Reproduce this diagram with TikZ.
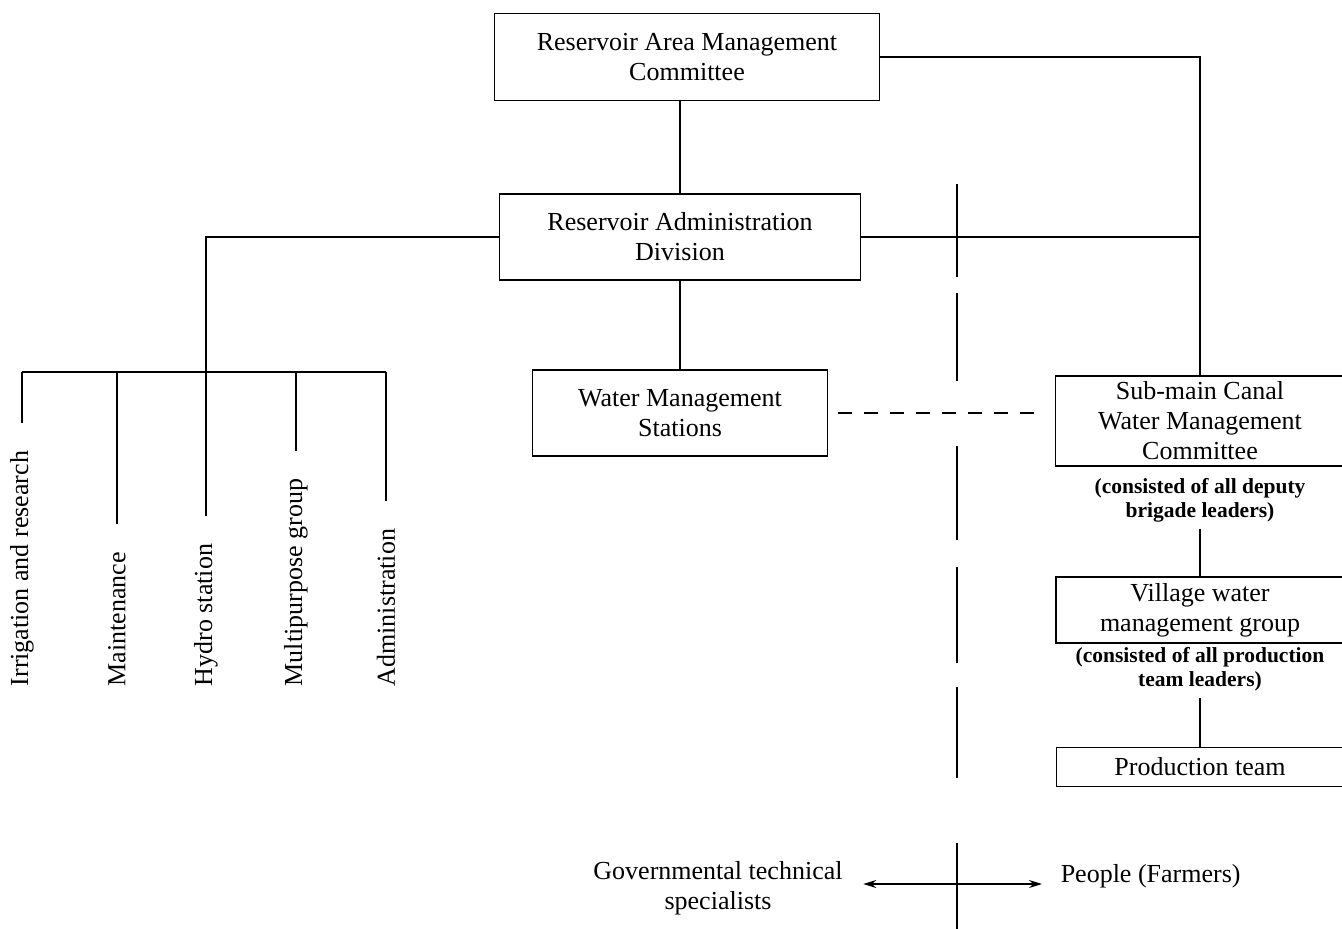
\documentclass[tikz,border=0pt]{standalone}
\usepackage{fontspec}
\setmainfont{Liberation Serif}
\usetikzlibrary{positioning,arrows.meta}

\begin{document}
\begin{tikzpicture}[x=1pt,y=-1pt,line width=1.5pt,
    >={Stealth[length=13pt,width=8pt]},
    box/.style={draw,align=center,inner sep=0pt,font=\fontsize{26}{30}\selectfont},
    note/.style={align=center,inner sep=0pt,font=\bfseries\fontsize{21.5}{24}\selectfont},
    unit/.style={rotate=90,anchor=west,inner sep=0pt,font=\fontsize{26}{30}\selectfont},
    side/.style={align=center,inner sep=0pt,font=\fontsize{26}{30}\selectfont}]
  \useasboundingbox (0,0) rectangle (1342,929);

  % Management boxes
  \node[box,minimum width=385pt,minimum height=87pt] (ramc) at (687,57) {Reservoir Area Management\\Committee};
  \node[box,minimum width=361pt,minimum height=86pt] (rad) at (680,237) {Reservoir Administration\\Division};
  \node[box,minimum width=295pt,minimum height=86pt] (wms) at (680,413) {Water Management\\Stations};

  % Farmers' side
  \node[box,minimum width=289pt,minimum height=90pt] (smc) at (1200,421) {Sub-main Canal\\Water Management\\Committee};
  \node[note] (smcnote) at (1200,500) {(consisted of all deputy\\brigade leaders)};
  \node[box,minimum width=288pt,minimum height=66pt] (vwg) at (1200,610) {Village water\\management group};
  \node[note] (vwgnote) at (1200,669) {(consisted of all production\\team leaders)};
  \node[box,minimum width=287pt,minimum height=39pt] (pt) at (1200,767) {Production team};

  % Units of the division
  \node[unit] (irr) at (22,687) {Irrigation and research};
  \node[unit] (mnt) at (117,687) {Maintenance};
  \node[unit] (hyd) at (206,687) {Hydro station};
  \node[unit] (mpg) at (296,687) {Multipurpose group};
  \node[unit] (adm) at (386,687) {Administration};
  \coordinate (hub) at (206,372);

  % Links
  \draw (ramc.south -| rad.north) -- (rad.north);
  \draw (ramc.east) -| (smc.north);
  \draw (rad.east) -- (rad.east -| smc.north);
  \draw (rad.south) -- (wms.north);
  \draw (rad.west) -| (hub);
  \draw (irr.east |- hub) -- (adm.east |- hub);
  \foreach \u in {irr,mnt,hyd,mpg,adm}
    \draw[shorten >=27pt] (\u.east |- hub) -- (\u.east);
  \draw[dash pattern=on 14pt off 12pt,shorten <=10pt,shorten >=10pt] (wms.east) -- (wms.east -| smc.west);
  \draw[shorten <=6pt] (smcnote.south) -- (vwg.north);
  \draw[shorten <=6pt] (vwgnote.south) -- (pt.north);

  % Divider
  \foreach \ya/\yb in {184/277,293/381,446/540,567/663,687/778,843/929}
    \draw[line width=1.2pt] (957,\ya) -- (957,\yb);

  % Bottom legend
  \node[side] (gov) at (718,888) {Governmental technical\\specialists};
  \node[side,anchor=west] (ppl) at (1060,876) {People (Farmers)};
  \draw[<->,shorten <=20pt,shorten >=18pt] ([yshift=4pt]gov.east) -- ([yshift=4pt]gov.east -| ppl.west);
\end{tikzpicture}
\end{document}
